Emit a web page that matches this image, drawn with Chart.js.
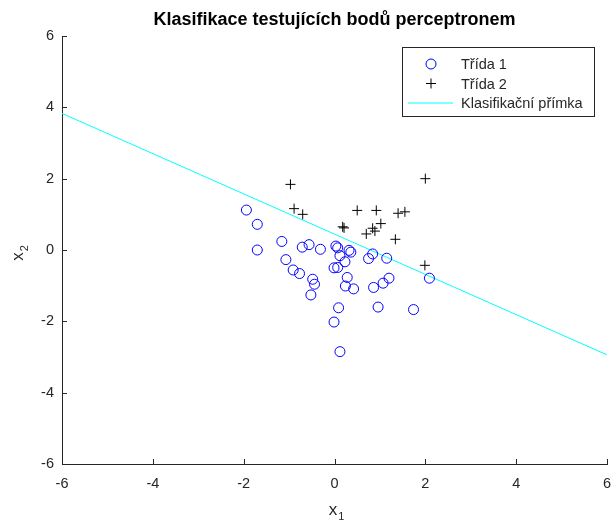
<!DOCTYPE html>
<html>
<head>
<meta charset="utf-8">
<script src="https://cdn.jsdelivr.net/npm/chart.js@4/dist/chart.umd.min.js"></script>
<style>
  html, body { margin: 0; padding: 0; background: #fff; }
  #wrap { width: 613px; height: 520px; }
</style>
</head>
<body>
<div id="wrap"><canvas id="chart" width="613" height="520"></canvas></div>
<script>
// class 1 test points (circles)
const class1X = [-1.94, -1.70, -1.70, -1.16, -1.07, -0.91, -0.77, -0.71, -0.56, -0.31,
  -0.48, -0.44, -0.52, 0.03, 0.07, 0.12, 0.32, 0.36, -0.01, 0.07, 0.23, 0.28, 0.24, 0.42,
  0.09, -0.01, 0.12, 0.75, 0.84, 1.15, 1.20, 1.07, 0.86, 0.96, 1.74, 2.09];
const class1Y = [1.12, 0.72, 0.00, 0.24, -0.27, -0.56, -0.66, 0.08, 0.15, 0.02,
  -0.82, -0.96, -1.26, 0.11, 0.06, -0.16, -0.01, -0.06, -0.50, -0.49, -0.33, -0.77, -1.01, -1.09,
  -1.62, -2.02, -2.85, -0.24, -0.11, -0.23, -0.79, -0.93, -1.05, -1.60, -1.67, -0.79];

// class 2 test points (crosses)
const class2X = [-0.97, -0.89, -0.70, 0.18, 0.21, 0.50, 0.92, 1.40, 1.55, 1.02,
  0.84, 0.89, 0.70, 1.34, 2.00, 1.99];
const class2Y = [1.84, 1.16, 1.00, 0.65, 0.62, 1.11, 1.11, 1.03, 1.07, 0.74,
  0.61, 0.53, 0.45, 0.30, 2.00, -0.43];

// decision line end points
const lineX = [-6, 6];
const lineY = [3.83, -2.94];

const tickValues = [-6, -4, -2, 0, 2, 4, 6];
const labels = ['Třída 1', 'Třída 2', 'Klasifikační přímka'];
const axisNames = [['x', '1'], ['x', '2']];

const toXY = (xs, ys) => xs.map((x, i) => ({ x: x, y: ys[i] }));

const fontFamily = "'Liberation Sans', Arial, Helvetica, sans-serif";
const axisColor = '#262626';

// MATLAB style ticks pointing into the plot
const innerTicks = {
  id: 'innerTicks',
  afterDraw(chart) {
    const { ctx, chartArea, scales } = chart;
    ctx.save();
    ctx.strokeStyle = axisColor;
    ctx.lineWidth = 1;
    ctx.beginPath();
    tickValues.forEach((v) => {
      const px = Math.round(scales.x.getPixelForValue(v)) + 0.5;
      ctx.moveTo(px, chartArea.bottom);
      ctx.lineTo(px, chartArea.bottom - 5);
      const py = Math.round(scales.y.getPixelForValue(v)) + 0.5;
      ctx.moveTo(chartArea.left, py);
      ctx.lineTo(chartArea.left + 5, py);
    });
    ctx.stroke();
    ctx.restore();
  }
};

// axis names with a subscript index
const axisTitles = {
  id: 'axisTitles',
  afterDraw(chart) {
    const { ctx, chartArea } = chart;
    const cx = (chartArea.left + chartArea.right) / 2;
    const cy = (chartArea.top + chartArea.bottom) / 2;
    const draw = (name) => {
      ctx.font = '17px ' + fontFamily;
      const w1 = ctx.measureText(name[0]).width;
      ctx.font = '11px ' + fontFamily;
      const w2 = ctx.measureText(name[1]).width;
      const x0 = -(w1 + w2 + 1) / 2;
      ctx.font = '17px ' + fontFamily;
      ctx.fillText(name[0], x0, 0);
      ctx.font = '11px ' + fontFamily;
      ctx.fillText(name[1], x0 + w1 + 1, 5);
    };
    ctx.save();
    ctx.fillStyle = axisColor;
    ctx.textBaseline = 'alphabetic';
    ctx.translate(cx + 2, 515);
    draw(axisNames[0]);
    ctx.restore();
    ctx.save();
    ctx.fillStyle = axisColor;
    ctx.textBaseline = 'alphabetic';
    ctx.translate(23, cy + 3);
    ctx.rotate(-Math.PI / 2);
    draw(axisNames[1]);
    ctx.restore();
  }
};

// legend box in the upper right corner of the axes
const boxLegend = {
  id: 'boxLegend',
  afterDraw(chart) {
    const { ctx, chartArea } = chart;
    const left = chartArea.right - 205, top = chartArea.top + 11;
    const w = 192, h = 69;
    ctx.save();
    ctx.fillStyle = '#fff';
    ctx.fillRect(left, top, w, h);
    ctx.strokeStyle = axisColor;
    ctx.lineWidth = 1;
    ctx.strokeRect(left + 0.5, top + 0.5, w, h);
    ctx.font = '14.5px ' + fontFamily;
    ctx.textBaseline = 'middle';
    chart.data.datasets.forEach((ds, i) => {
      const y = top + 17 + i * 19.5;
      const mx = left + 29;
      if (ds.showLine) {
        ctx.strokeStyle = ds.borderColor;
        ctx.lineWidth = ds.borderWidth;
        ctx.beginPath();
        ctx.moveTo(left + 6, y);
        ctx.lineTo(left + 51, y);
        ctx.stroke();
      } else {
        ctx.strokeStyle = ds.borderColor;
        ctx.fillStyle = 'rgba(0,0,0,0)';
        Chart.helpers.drawPoint(ctx, {
          pointStyle: ds.pointStyle, radius: ds.pointRadius,
          borderWidth: ds.borderWidth, rotation: 0
        }, mx, y);
      }
      ctx.fillStyle = axisColor;
      ctx.fillText(ds.label, left + 59, y + 1);
    });
    ctx.restore();
  }
};

new Chart(document.getElementById('chart'), {
  type: 'scatter',
  data: {
    datasets: [
      {
        label: labels[0],
        data: toXY(class1X, class1Y),
        pointStyle: 'circle',
        pointRadius: 5,
        borderWidth: 1,
        borderColor: '#0000ff',
        backgroundColor: 'rgba(0,0,0,0)'
      },
      {
        label: labels[1],
        data: toXY(class2X, class2Y),
        pointStyle: 'cross',
        pointRadius: 5,
        borderWidth: 1,
        borderColor: '#000000',
        backgroundColor: '#000000'
      },
      {
        label: labels[2],
        data: toXY(lineX, lineY),
        showLine: true,
        pointRadius: 0,
        borderWidth: 1,
        borderColor: '#00ffff',
        backgroundColor: '#00ffff'
      }
    ]
  },
  options: {
    responsive: false,
    animation: false,
    events: [],
    layout: { padding: { left: 0, right: 0, top: 0, bottom: 0 } },
    plugins: {
      legend: { display: false },
      tooltip: { enabled: false },
      title: {
        display: true,
        fullSize: false,
        text: 'Klasifikace testujících bodů perceptronem',
        color: '#000',
        font: { family: fontFamily, size: 18, weight: 'bold' },
        padding: { top: 9, bottom: 5.4 }
      }
    },
    scales: {
      x: {
        type: 'linear',
        min: -6,
        max: 6,
        afterFit: (scale) => {
          scale.height = 56;
          scale.paddingLeft = 0;
          scale.paddingRight = 0;
        },
        afterBuildTicks: (scale) => { scale.ticks = tickValues.map((v) => ({ value: v })); },
        grid: { display: true, drawOnChartArea: false, drawTicks: false },
        border: { display: true, color: axisColor, width: 1 },
        ticks: { color: axisColor, padding: 11, font: { family: fontFamily, size: 14.5 } }
      },
      y: {
        type: 'linear',
        min: -6,
        max: 6,
        afterFit: (scale) => {
          scale.width = 62;
          scale.paddingTop = 0;
          scale.paddingBottom = 0;
        },
        afterBuildTicks: (scale) => { scale.ticks = tickValues.map((v) => ({ value: v })); },
        grid: { display: true, drawOnChartArea: false, drawTicks: false },
        border: { display: true, color: axisColor, width: 1 },
        ticks: { color: axisColor, padding: 8, font: { family: fontFamily, size: 14.5 } }
      }
    }
  },
  plugins: [innerTicks, axisTitles, boxLegend]
});
</script>
</body>
</html>
